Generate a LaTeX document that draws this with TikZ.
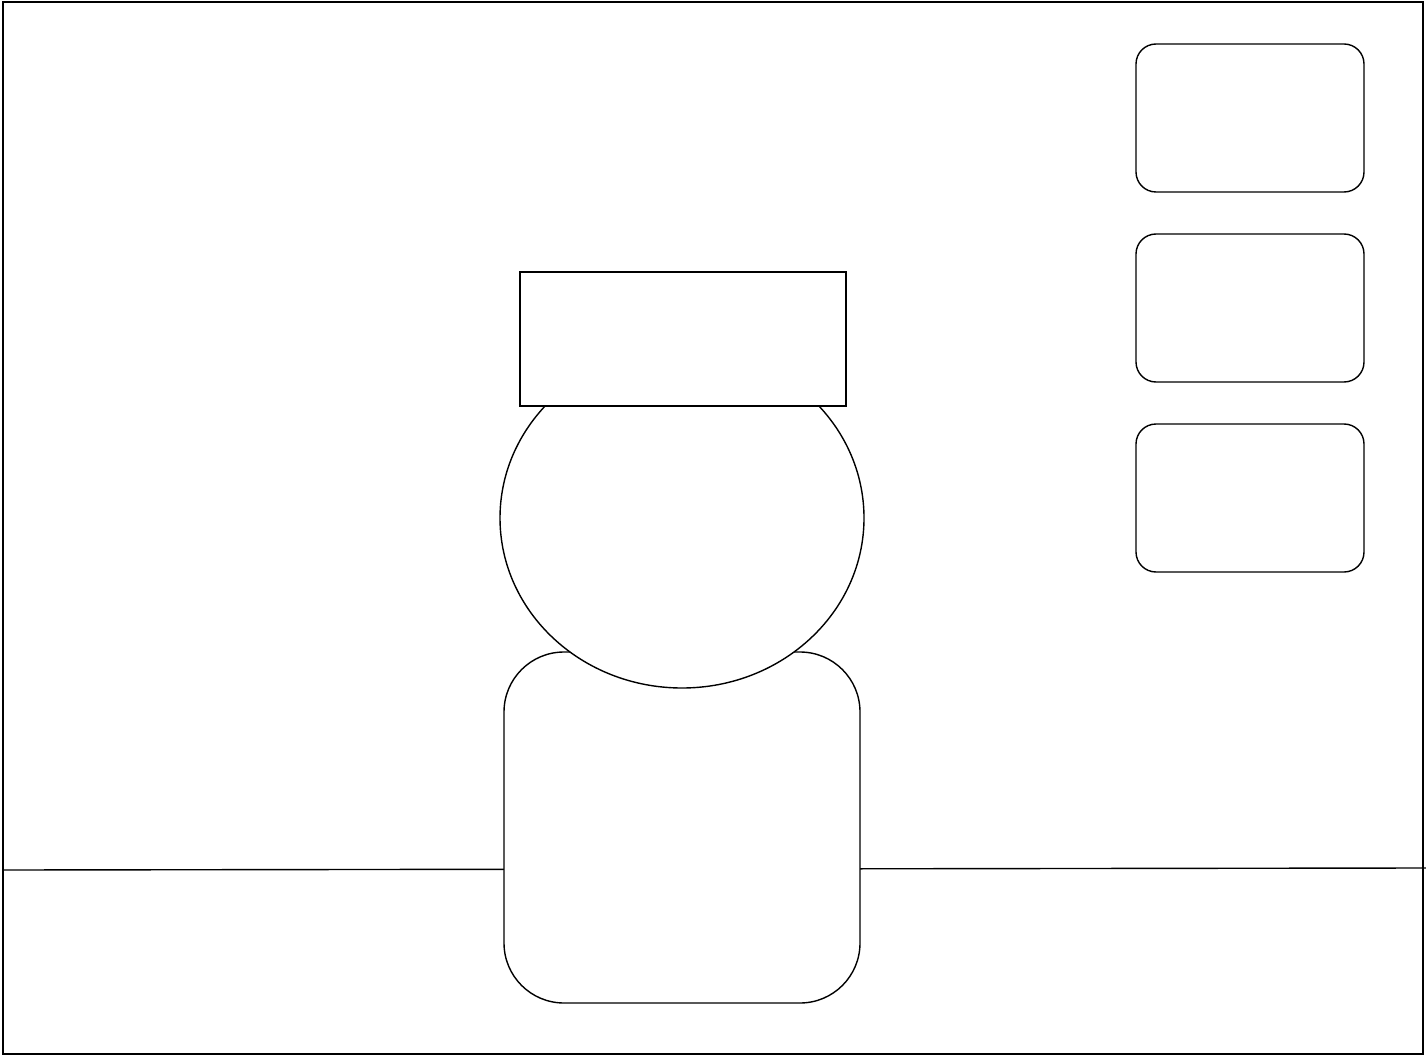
\documentclass[tikz,border=0pt]{standalone}
\usetikzlibrary{shapes.geometric}
\begin{document}
\begin{tikzpicture}[x=1pt,y=-1pt,
  every node/.style={draw=black, line width=1.4pt, fill=white, inner sep=0pt, outer sep=0pt},
  sidebox/.style={rounded corners=20pt, minimum width=228pt, minimum height=148pt},
  lineblk/.style={draw=black, line width=1.4pt}]
\useasboundingbox (0,0) rectangle (1426,1056);
% frame
\node[minimum width=1420pt, minimum height=1052pt, fill=none] (frame) at (713,528) {};
% floor line
\coordinate (fl) at (3,870);
\coordinate (fr) at (1426,868);
\draw[lineblk] (fl) -- (fr);
% body
\node[rounded corners=60pt, minimum width=356pt, minimum height=351pt] (body) at (682,827.5) {};
% head
\node[ellipse, minimum width=364pt, minimum height=340pt] (head) at (682,518) {};
% hat
\node[minimum width=326pt, minimum height=134pt] (hat) at (683,339) {};
% side boxes
\node[sidebox] (b1) at (1250,118) {};
\node[sidebox] (b2) at (1250,308) {};
\node[sidebox] (b3) at (1250,498) {};
\end{tikzpicture}
\end{document}
